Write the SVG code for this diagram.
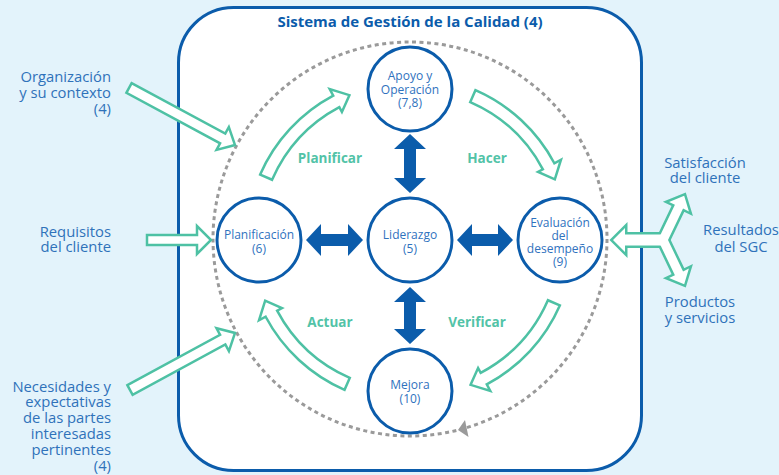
<svg xmlns="http://www.w3.org/2000/svg" width="779" height="475" viewBox="0 0 779 475">
<style>
.bg{fill:#E3F3FB}
.box{fill:#FFFFFF;stroke:#0B5CAB;stroke-width:3}
.title{font-family:"Open Sans","Liberation Sans",sans-serif;font-size:15px;font-weight:bold;fill:#0B5CAB;text-anchor:middle}
.node circle{fill:#FFFFFF;stroke:#0B5CAB;stroke-width:3}
.node text{font-family:"Open Sans","Liberation Sans",sans-serif;font-size:12px;fill:#2F72BE;text-anchor:middle}
.lbl{font-family:"Open Sans","Liberation Sans",sans-serif;font-size:14.8px;fill:#2F72BA}
.r{text-anchor:end}
.m{text-anchor:middle}
.phase{font-family:"Open Sans","Liberation Sans",sans-serif;font-size:13.5px;font-weight:bold;fill:#52C3A7;text-anchor:middle}
.ta{fill:#FFFFFF;stroke:#4EC1A4;stroke-width:2.5;stroke-linejoin:miter}
.under{fill:#4EC1A4;stroke:#4EC1A4;stroke-width:5;stroke-linejoin:miter}
.over{fill:#FFFFFF;stroke:none}
.ba{fill:#0B5CAB}
.dash{fill:none;stroke:#9A9A9A;stroke-width:3;stroke-dasharray:4 3.5}
</style>
<defs>
<path id="curv" d="M260.17,174.55 A163.5,163.5 0 0 1 333.24,95.65 L329.72,89.02 L349.41,95.17 L341.92,111.98 L339.34,107.12 A150.5,150.5 0 0 0 272.08,179.75 Z"/>
</defs>
<rect class="bg" x="0" y="0" width="779" height="475"/>
<rect class="box" x="178.5" y="7.5" width="463" height="463" rx="55" ry="55"/>
<text class="title" x="410" y="27">Sistema de Gestión de la Calidad (4)</text>

<g id="cycle">
<circle class="dash" cx="410" cy="239" r="197"/>
<polygon points="458,430 465,420 468.5,437" fill="#9A9A9A"/>
</g>

<g id="connectors">
<use href="#curv" class="ta"/>
<use href="#curv" class="ta" transform="rotate(90 410 240)"/>
<use href="#curv" class="ta" transform="rotate(180 410 240)"/>
<use href="#curv" class="ta" transform="rotate(270 410 240)"/>
<polygon class="ta" transform="translate(129,88) rotate(28.3)" points="0,-5.5 106.4,-5.5 106.4,-13 120.4,0 106.4,13 106.4,5.5 0,5.5"/>
<polygon class="ta" points="147,235 197,235 197,226 211,240 197,254 197,245 147,245"/>
<polygon class="ta" transform="translate(130,390) rotate(-28.5)" points="0,-5.5 105.5,-5.5 105.5,-13 119.5,0 105.5,13 105.5,5.5 0,5.5"/>
<g class="under">
<polygon points="613,240 625,228 625,234.5 666,234.5 666,245.5 625,245.5 625,252"/>
<polygon transform="translate(663,240) rotate(-64.4)" points="0,-4.5 37,-4.5 37,-11 49,0 37,11 37,4.5 0,4.5"/>
<polygon transform="translate(663,240) rotate(64.4)" points="0,-4.5 37,-4.5 37,-11 49,0 37,11 37,4.5 0,4.5"/>
</g>
<g class="over">
<polygon points="613,240 625,228 625,234.5 666,234.5 666,245.5 625,245.5 625,252"/>
<polygon transform="translate(663,240) rotate(-64.4)" points="0,-4.5 37,-4.5 37,-11 49,0 37,11 37,4.5 0,4.5"/>
<polygon transform="translate(663,240) rotate(64.4)" points="0,-4.5 37,-4.5 37,-11 49,0 37,11 37,4.5 0,4.5"/>
</g>
<polygon class="ba" points="306,240 321,224 321,234 348,234 348,224 363,240 348,256 348,246 321,246 321,256"/>
<polygon class="ba" points="457,240 472,224 472,234 498,234 498,224 513,240 498,256 498,246 472,246 472,256"/>
<polygon class="ba" points="410,134 426,149 416,149 416,178 426,178 410,193 394,178 404,178 404,149 394,149"/>
<polygon class="ba" points="410,287 426,302 416,302 416,329 426,329 410,344 394,329 404,329 404,302 394,302"/>
</g>

<text class="phase" x="330" y="163">Planificar</text>
<text class="phase" x="487" y="163">Hacer</text>
<text class="phase" x="477" y="327">Verificar</text>
<text class="phase" x="330" y="327">Actuar</text>

<g id="n-apoyo" class="node">
<circle cx="410" cy="89" r="42"/>
<text x="410" y="80">Apoyo y</text>
<text x="410" y="94">Operación</text>
<text x="410" y="107">(7,8)</text>
</g>
<g id="n-liderazgo" class="node">
<circle cx="410" cy="240" r="42"/>
<text x="410" y="239">Liderazgo</text>
<text x="410" y="253">(5)</text>
</g>
<g id="n-planificacion" class="node">
<circle cx="259" cy="240" r="42"/>
<text x="259" y="239">Planificación</text>
<text x="259" y="253">(6)</text>
</g>
<g id="n-evaluacion" class="node">
<circle cx="560" cy="240" r="42"/>
<text x="560" y="227">Evaluación</text>
<text x="560" y="240">del</text>
<text x="560" y="253">desempeño</text>
<text x="560" y="266">(9)</text>
</g>
<g id="n-mejora" class="node">
<circle cx="410" cy="391" r="42"/>
<text x="410" y="389">Mejora</text>
<text x="410" y="403">(10)</text>
</g>

<g id="t-organizacion">
<text class="lbl r" x="111" y="82">Organización</text>
<text class="lbl r" x="111" y="98">y su contexto</text>
<text class="lbl r" x="111" y="114">(4)</text>
</g>
<g id="t-requisitos">
<text class="lbl r" x="111" y="237">Requisitos</text>
<text class="lbl r" x="111" y="252">del cliente</text>
</g>
<g id="t-necesidades">
<text class="lbl r" x="111" y="392">Necesidades y</text>
<text class="lbl r" x="111" y="407">expectativas</text>
<text class="lbl r" x="111" y="423">de las partes</text>
<text class="lbl r" x="111" y="439">interesadas</text>
<text class="lbl r" x="111" y="455">pertinentes</text>
<text class="lbl r" x="111" y="471">(4)</text>
</g>
<g id="t-satisfaccion">
<text class="lbl m" x="705" y="168">Satisfacción</text>
<text class="lbl m" x="705" y="183">del cliente</text>
</g>
<g id="t-resultados">
<text class="lbl m" x="741" y="235">Resultados</text>
<text class="lbl m" x="741" y="252">del SGC</text>
</g>
<g id="t-productos">
<text class="lbl m" x="700" y="307">Productos</text>
<text class="lbl m" x="700" y="323">y servicios</text>
</g>
</svg>
